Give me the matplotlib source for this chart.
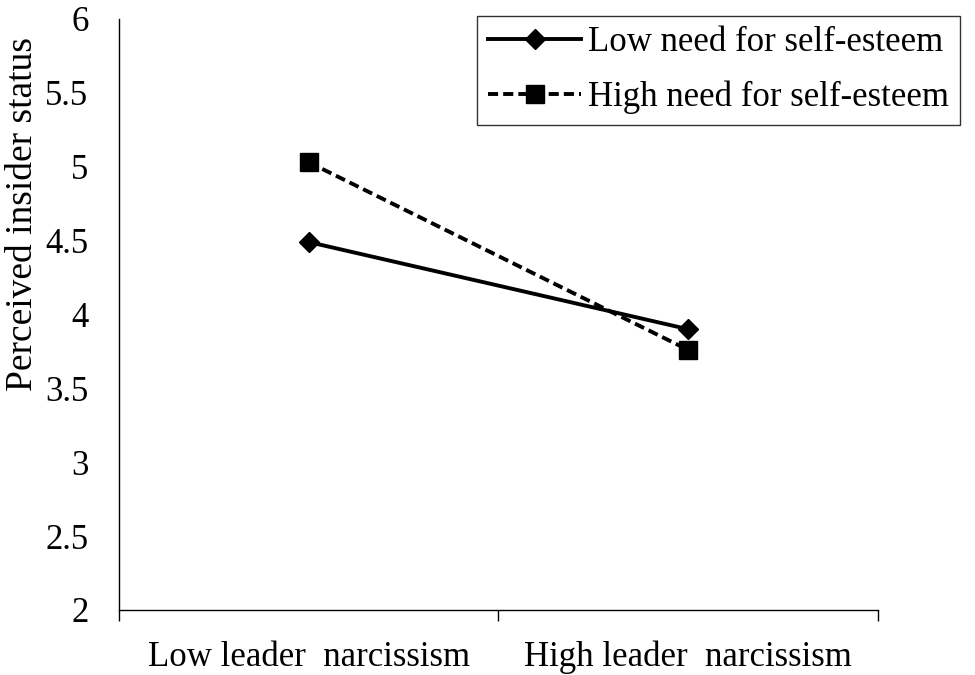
import matplotlib
matplotlib.use("Agg")
import matplotlib.pyplot as plt

categories = ["Low leader  narcissism", "High leader  narcissism"]
low_need = [4.49, 3.90]
high_need = [5.03, 3.76]
series_labels = ["Low need for self-esteem", "High need for self-esteem"]
yticks = [2, 2.5, 3, 3.5, 4, 4.5, 5, 5.5, 6]

plt.rcParams['font.family'] = ['Liberation Serif', 'DejaVu Serif']

fig = plt.figure(figsize=(9.75, 6.75), dpi=100)
ax = fig.add_axes([0.122, 0.0963, 0.7785, 0.8757])

x = [i + 0.5 for i in range(len(categories))]
ax.plot(x, low_need, color='black', lw=2.8, marker='D', markersize=10,
        label=series_labels[0])
ax.plot(x, high_need, color='black', lw=2.8, ls=(0, (2.6, 1.3)), marker='s',
        markersize=13.5, label=series_labels[1])

ax.set_xlim(0, len(categories))
ax.set_ylim(2, 6)
ax.set_yticks(yticks)
ax.set_yticklabels([f"{v:g}" for v in yticks])
ax.set_xticks(range(len(categories) + 1))
ax.set_xticklabels([])
ax.set_xticks(x, minor=True)
ax.set_xticklabels(categories, minor=True)
ax.tick_params(axis='x', which='minor', length=0, labelsize=25, pad=22)
ax.tick_params(axis='x', which='major', length=8, width=1, direction='out')
ax.tick_params(axis='y', length=0, labelsize=25, pad=22)
for s in ['top', 'right']:
    ax.spines[s].set_visible(False)
for s in ['left', 'bottom']:
    ax.spines[s].set_linewidth(1.0)

ax.set_ylabel("Perceived insider status", fontsize=27)
ax.yaxis.set_label_coords(-0.104, 0.67)

leg = ax.legend(loc='upper left', bbox_to_anchor=(0.472, 1.005), fontsize=25,
                frameon=True, fancybox=False, edgecolor='black',
                handlelength=2.7, handletextpad=0.2, borderpad=0.3,
                labelspacing=0.62, borderaxespad=0)
leg.get_frame().set_linewidth(1.0)

fig.savefig("out.png", dpi=100)
